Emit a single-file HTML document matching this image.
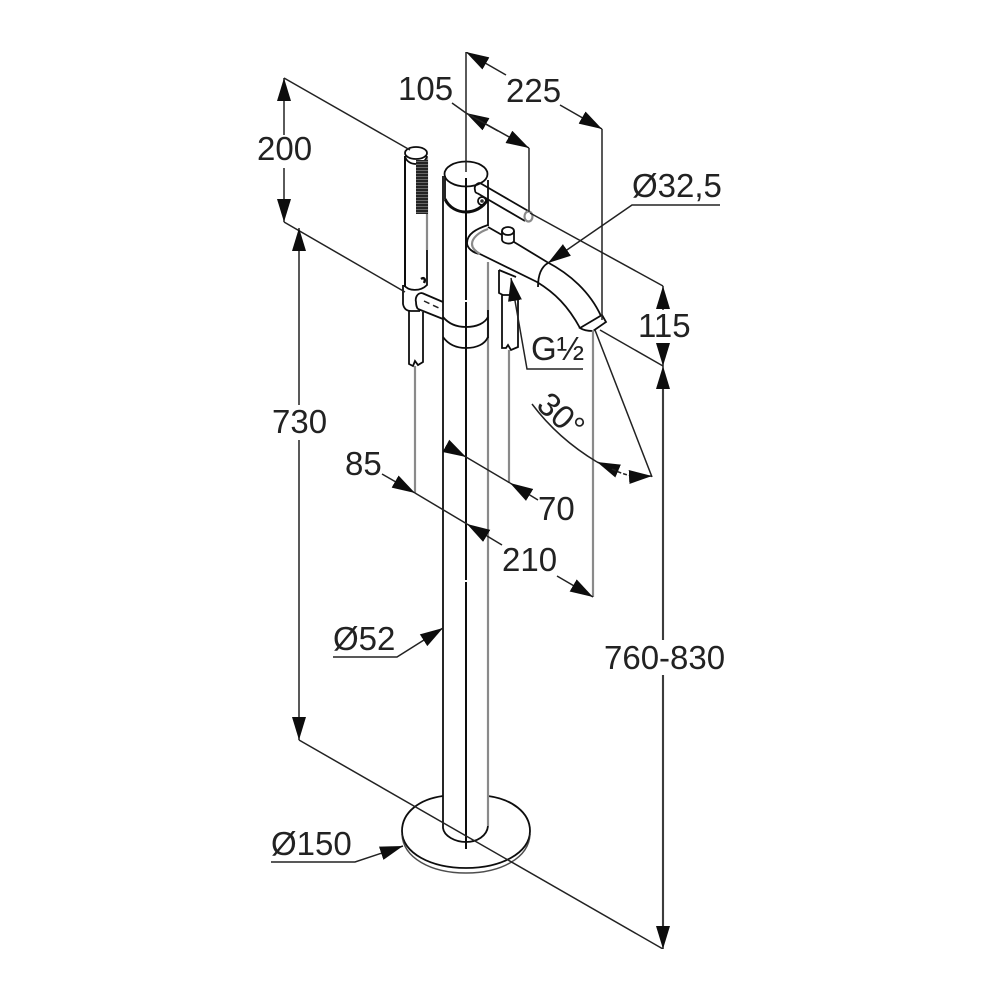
<!DOCTYPE html>
<html><head><meta charset="utf-8"><style>
html,body{margin:0;padding:0;background:#fff}
svg{display:block}
text{font-family:"Liberation Sans",sans-serif;font-size:33px;fill:#222}
.k{stroke:#111;stroke-width:1.800;fill:none}
.g{stroke:#8a8a8a;stroke-width:2.200;fill:none}
.d{stroke:#222;stroke-width:1.500;fill:none}
.a{marker-end:url(#ah)}
.dot{stroke:#222;stroke-width:1.500;fill:none;stroke-dasharray:4 2}
</style></head><body>
<svg width="1000" height="1000" viewBox="0 0 1000 1000" xmlns="http://www.w3.org/2000/svg">
<defs>
<marker id="ah" markerUnits="userSpaceOnUse" markerWidth="24" markerHeight="16" refX="23" refY="8" orient="auto"><polygon points="0,1 23,8 0,15" fill="#111"/></marker>
<pattern id="st" width="13" height="3" patternUnits="userSpaceOnUse"><rect width="13" height="2" fill="#222"/><rect y="2" width="13" height="1" fill="#666"/></pattern>
<filter id="soft" x="0" y="0" width="100%" height="100%"><feGaussianBlur stdDeviation="0.350"/></filter>
</defs>
<rect width="1000" height="1000" fill="#fff"/>
<g filter="url(#soft)">

<!-- base -->
<path class="k" d="M443,796 C420,799 402,812 402,831 C402,853 431,868 466,868 C501,868 530,853 530,831 C530,812 511,799 488,796"/>
<path class="d" stroke-opacity=".8" d="M402,834 C403,858 431,873 466,873 C501,873 529,858 530,834"/>

<!-- column -->
<path class="k" d="M443,176V828C444,836 455,842 466,842C477,842 487,836 488,826"/>
<path class="g" d="M488,262V826"/>
<path class="k" d="M488,180V226"/>
<path class="k" d="M488,310V338"/>
<path class="k" d="M443,317C448,323 456,327 466,327C477,327 485,323 488,317"/>
<path class="k" d="M443,337C448,344 456,348 466,348C477,348 485,344 488,337"/>

<!-- cap -->
<ellipse class="k" cx="466" cy="174" rx="21.500" ry="12.500"/>
<path class="k" d="M445,176V199"/>
<path d="M445,199C449,208 458,212 466,212C474,212 483,208 488,199" fill="none" stroke="#111" stroke-width="3"/>

<!-- lever -->
<path class="k" d="M480,183L530,212M477,193L525,221"/>
<ellipse class="g" cx="528.500" cy="216.500" rx="4" ry="5"/>
<path class="k" d="M480,183C476,183 474,187 475,190C475,192 476,193 477,193"/>
<circle class="k" cx="482" cy="201" r="4"/>
<circle cx="482" cy="201" r="1.800" fill="#333"/>

<!-- spout -->
<path class="k" d="M488,225C476,229 467,234 467,243C467,248 473,253 480,254"/>
<path class="g" d="M488,229C479,232 472,238 472,244C472,248 475,251 480,254"/>
<path class="k" d="M488,227L502,235M514,242L547,262C570,274 590,292 601,316"/>
<path class="k" d="M480,254L537,282C555,293 568,306 580,328"/>
<path class="k" d="M548,263C541,267 538,276 538,287"/>
<path class="k" d="M580,328L602,315L606,322L593,331C588,331 583,330 580,328Z"/>
<path class="k" d="M502,231V240C503,244 512,245 514,241V231"/>
<ellipse class="k" cx="508" cy="231" rx="6" ry="4"/>

<!-- lower connector -->
<path class="k" d="M499,270V293L503,295H511M502,295V348L506,348L508,345L511,350L518,347V296"/>
<path class="k" d="M499,270L516,277"/>
<path class="g" d="M509,350V483"/>

<!-- hand shower -->
<path d="M405,156V287" fill="none" stroke="#111" stroke-width="2"/>
<path class="g" d="M427,157V250"/>
<path class="k" d="M427,250V280"/>
<ellipse class="k" cx="416" cy="153" rx="11" ry="6"/>
<path class="k" d="M405,156C406,162 412,164 416,164C421,164 426,161 427,156"/>
<rect x="416" y="160" width="12" height="54" fill="url(#st)"/>
<path class="k" d="M404,285C408,291 420,292 427,285V280"/>
<path d="M421,279C424,277 426,279 424,283" fill="none" stroke="#111" stroke-width="2.500"/>
<path class="k" d="M403,285V304C404,309 407,311 411,311H420"/>
<path class="k" d="M422,293L443,302M418,309L443,319M422,293C417,293 415,298 416,302C416,305 417,308 418,309"/>
<path class="d" stroke-dasharray="6 4" d="M424,301L443,310"/>
<path class="k" d="M409,311V364L413,366L415,361L418,365L423,362V312"/>
<path class="g" d="M415,366V493"/>

<!-- centre line -->
<path class="d" d="M466,52V172"/>
<path d="M466,178V300M466,302V580M466,582V849" fill="none" stroke="#111" stroke-width="2"/>

<!-- extension lines -->
<path class="d" d="M284,78L410,150"/>
<path class="d" d="M284,222L405,292"/>
<path class="d" d="M299,740L663,949"/>
<path class="d" d="M530,213L663,286"/>
<path class="d" d="M600,330L663,366"/>
<path class="d" d="M529,148V212"/>
<path class="d" d="M602,129V320"/>
<path class="g" d="M593,330V597"/>
<path class="d" d="M595,330L652,477"/>
<path class="g" d="M663,389V640M663,675V928"/>

<!-- dimensions -->
<path class="d a" d="M506,75L466,52"/>
<path class="d a" d="M560,105L602,129"/>
<path class="d a" d="M498,131L466,113"/>
<path class="d" d="M452,103L466,113"/>
<path class="d a" d="M466,113L529,148"/>
<path class="d a" d="M284,135V78"/>
<path class="d a" d="M284,168V222"/>
<path class="d a" d="M299,405V228"/>
<path class="d a" d="M299,440V740"/>
<path class="d a" d="M663,640V366"/>
<path class="d a" d="M663,675V949"/>
<path class="d a" d="M663,310V286"/>
<path class="d a" d="M663,345V366"/>
<path class="d a" d="M382,474L415,493"/>
<path class="d" d="M415,493L467,524"/>
<path class="d a" d="M502,545L467,524"/>
<path class="d a" d="M557,576L593,597"/>
<path class="d a" d="M446,446L466,457"/>
<path class="d" d="M466,457L510,483"/>
<path class="d a" d="M538,500L510,483"/>

<!-- leaders -->
<path class="d a" d="M720,205H632L548,263"/>
<path class="d a" d="M583,369H527L511,278"/>
<path class="d a" d="M333,657H397L443,628"/>
<path class="d a" d="M271,862H355L403,846"/>

<!-- 30 degree arc -->
<path class="d" d="M532,404C550,428 572,447 597,462"/>
<path class="d a" d="M618,471L597,462"/>
<path class="dot" d="M612,469C622,474 630,476 640,477"/>
<path class="d a" d="M630,477L652,476"/>

<!-- text -->
<text x="257" y="160">200</text>
<text x="398" y="100">105</text>
<text x="506" y="102">225</text>
<text x="632" y="197">Ø32,5</text>
<text x="638" y="337">115</text>
<text x="531" y="360">G½</text>
<text x="272" y="433">730</text>
<text x="345" y="475">85</text>
<text x="538" y="520">70</text>
<text x="502" y="571">210</text>
<text x="604" y="669">760-830</text>
<text x="333" y="650">Ø52</text>
<text x="271" y="855">Ø150</text>
<text x="0" y="0" transform="translate(535,407) rotate(42)">30°</text>
</g>
</svg>
</body></html>
